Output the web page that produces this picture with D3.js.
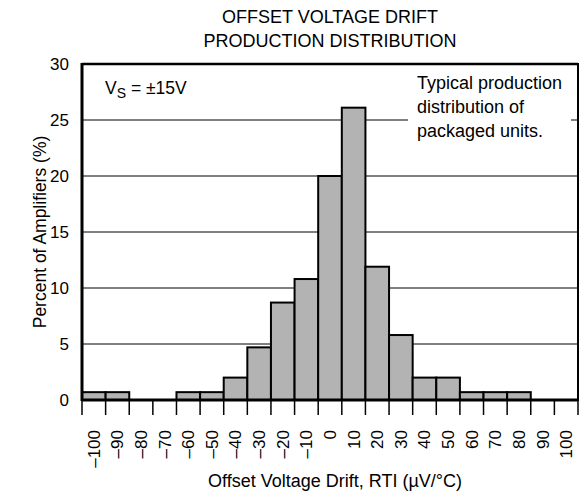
<!DOCTYPE html>
<html><head><meta charset="utf-8">
<script src="https://cdn.jsdelivr.net/npm/d3@7"></script>
<style>
body{margin:0;background:#fff;}
text{font-family:"Liberation Sans",Arial,sans-serif;fill:#000;}
</style></head>
<body><svg id="c" width="585" height="502"></svg>
<script>
const binCenters = [-100,-90,-80,-70,-60,-50,-40,-30,-20,-10,0,10,20,30,40,50,60,70,80,90,100];
const percents   = [0.7,0.7,0,0,0.7,0.7,2,4.7,8.7,10.8,20,26.1,11.9,5.8,2,2,0.7,0.7,0.7,0,0];
const yTicks = [0,5,10,15,20,25,30];
const xTickLabels = ["–100","–90","–80","–70","–60","–50","–40","–30","–20","–10","0","10","20","30","40","50","60","70","80","90","100"];
const titleLines = ["OFFSET VOLTAGE DRIFT","PRODUCTION DISTRIBUTION"];
const noteLines = ["Typical production","distribution of","packaged units."];

const svg = d3.select("#c");
const L=82,R=578,T=64,B=400;
const x = d3.scaleLinear().domain([-105,105]).range([L,R]);
const y = d3.scaleLinear().domain([0,30]).range([B,T]);

// gridlines
svg.append("g").selectAll("line").data(yTicks.filter(v=>v>0&&v<30)).join("line")
  .attr("x1",L).attr("x2",R).attr("y1",d=>y(d)).attr("y2",d=>y(d))
  .attr("stroke","#000").attr("stroke-width",1);

// note box (white background hides gridline)
svg.append("rect").attr("x",408).attr("y",70).attr("width",163).attr("height",80).attr("fill","#fff");

// bars
svg.append("g").selectAll("rect").data(binCenters.map((c,i)=>({c,v:percents[i]})).filter(d=>d.v>0)).join("rect")
  .attr("x",d=>x(d.c-5)).attr("width",d=>x(d.c+5)-x(d.c-5))
  .attr("y",d=>y(d.v)).attr("height",d=>y(0)-y(d.v))
  .attr("fill","#b3b3b3").attr("stroke","#000").attr("stroke-width",2);

// frame
svg.append("line").attr("x1",L).attr("x2",R).attr("y1",B).attr("y2",B).attr("stroke","#000").attr("stroke-width",3);
svg.append("line").attr("x1",L).attr("x2",R).attr("y1",T).attr("y2",T).attr("stroke","#000").attr("stroke-width",2.5);
svg.append("line").attr("x1",L).attr("x2",L).attr("y1",T-1).attr("y2",B+1).attr("stroke","#000").attr("stroke-width",3);
svg.append("line").attr("x1",R).attr("x2",R).attr("y1",T-1).attr("y2",B+1).attr("stroke","#000").attr("stroke-width",2);

// x ticks (bin edges)
const edges = d3.range(-105,106,10);
svg.append("g").selectAll("line").data(edges).join("line")
  .attr("x1",d=>x(d)).attr("x2",d=>x(d)).attr("y1",B).attr("y2",B+15)
  .attr("stroke","#000").attr("stroke-width",1.5);

// x labels
svg.append("g").selectAll("text").data(binCenters).join("text")
  .attr("transform",d=>`translate(${x(d)},430) rotate(-90)`)
  .attr("text-anchor","end").attr("dy","0.35em").attr("font-size",17)
  .text((d,i)=>xTickLabels[i]);

// y labels
svg.append("g").selectAll("text").data(yTicks).join("text")
  .attr("x",69).attr("y",d=>y(d)).attr("dy","0.35em").attr("text-anchor","end").attr("font-size",17)
  .text(d=>d);

// axis titles
svg.append("text").attr("transform",`translate(46,${(T+B)/2}) rotate(-90)`).attr("text-anchor","middle")
  .attr("font-size",17.5).text("Percent of Amplifiers (%)");
svg.append("text").attr("x",335).attr("y",487).attr("text-anchor","middle").attr("font-size",18)
  .text("Offset Voltage Drift, RTI (µV/°C)");

// title
svg.append("g").selectAll("text").data(titleLines).join("text")
  .attr("x",330).attr("y",(d,i)=>23+i*24).attr("text-anchor","middle").attr("font-size",18).text(d=>d);

// VS label
const vs = svg.append("text").attr("x",105).attr("y",94).attr("font-size",17.5);
vs.append("tspan").text("V");
vs.append("tspan").attr("dy",4).attr("font-size",14).text("S");
vs.append("tspan").attr("dy",-4).text(" = ±15V");

// note
svg.append("g").selectAll("text").data(noteLines).join("text")
  .attr("x",417).attr("y",(d,i)=>89+i*24).attr("font-size",18).text(d=>d);
</script></body></html>
